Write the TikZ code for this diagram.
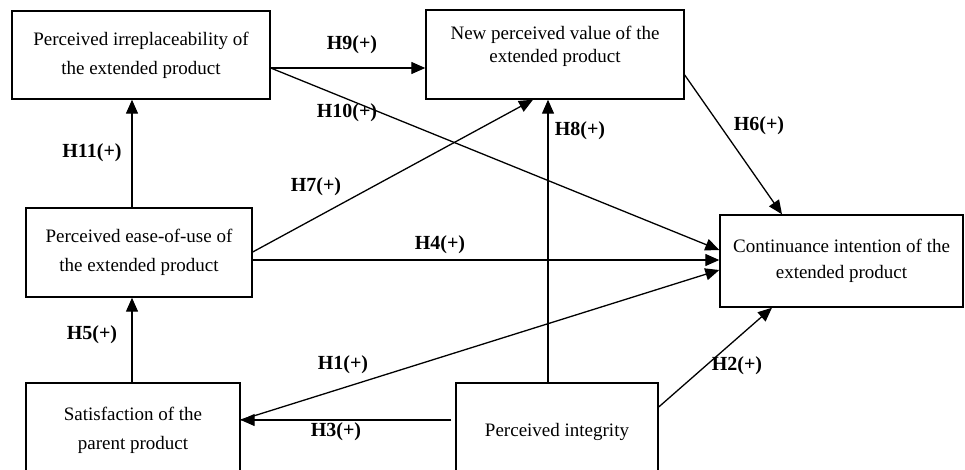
\documentclass[tikz,border=0pt]{standalone}
\usepackage{fontspec}
\setmainfont{Liberation Serif}
\usetikzlibrary{arrows.meta,calc}
\tikzset{
  construct/.style={draw, line width=1.4pt, align=center, inner sep=2pt,
    font=\fontsize{19}{29}\selectfont},
  link/.style={-{Triangle[length=14pt,width=12pt]}, line width=1.3pt},
  hyp/.style={font=\fontsize{20}{22}\selectfont\bfseries, inner sep=0pt},
}

\begin{document}
\begin{tikzpicture}[x=1pt,y=-1pt]
  \useasboundingbox (0,0) rectangle (965,469);

  % constructs
  \node[construct, minimum width=258, minimum height=88] (irr) at (141,55)
    {Perceived irreplaceability of\\the extended product};
  \node[construct, minimum width=258, minimum height=89, text depth=20pt,
    font=\fontsize{19}{23}\selectfont] (value) at (555,54.5)
    {New perceived value of the\\extended product};
  \node[construct, minimum width=226, minimum height=89] (ease) at (139,252.5)
    {Perceived ease-of-use of\\the extended product};
  \node[construct, minimum width=243, minimum height=92,
    font=\fontsize{19}{26}\selectfont] (intent) at (841.5,261)
    {Continuance intention of the\\extended product};
  \node[construct, minimum width=214, minimum height=94] (satis) at (133,430)
    {Satisfaction of the\\parent product};
  \node[construct, minimum width=202, minimum height=98] (integ) at (557,432)
    {Perceived integrity};

  % start points on the boxes
  \coordinate (irrout) at ([yshift=-13pt]irr.east);
  \coordinate (satisout) at ([yshift=10pt]satis.east);

  % hypotheses
  \draw[link] (irrout) -- (irrout -| value.west);
  \draw[link] (irrout) -- ([yshift=11pt]intent.west);
  \draw[link] ([xshift=-7pt]ease.north) -- ([xshift=-7pt]ease.north |- irr.south);
  \draw[link] ([yshift=0.5pt]ease.east) -- ([xshift=-22pt]value.south);
  \draw[link] ([yshift=-7.5pt]ease.east) -- ([yshift=-7.5pt]ease.east -| intent.west);
  \draw[link] ([yshift=-20.5pt]value.east) -- ([xshift=-59.5pt]intent.north);
  \draw[link] ([xshift=-9pt]integ.north) -- ([xshift=-9pt]integ.north |- value.south);
  \draw[link] ([xshift=-1pt]satis.north) -- ([xshift=-1pt]satis.north |- ease.south);
  \draw[link] (satisout) -- ([yshift=-9pt]intent.west);
  \draw[link] ([xshift=-4pt,yshift=12pt]integ.west) -- (satisout);
  \draw[link] ([yshift=25pt]integ.east) -- ([xshift=-69.5pt]intent.south);

  % labels
  \node[hyp] (h9) at (352,45) {H9(+)};
  \node[hyp] (h10) at (347,113) {H10(+)};
  \node[hyp] (h11) at (92,153) {H11(+)};
  \node[hyp] (h7) at (316,187) {H7(+)};
  \node[hyp] (h8) at (580,131) {H8(+)};
  \node[hyp] (h6) at (759,126) {H6(+)};
  \node[hyp] (h4) at (440,245) {H4(+)};
  \node[hyp] (h5) at (92,335) {H5(+)};
  \node[hyp] (h1) at (343,365) {H1(+)};
  \node[hyp] (h2) at (737,366) {H2(+)};
  \node[hyp] (h3) at (336,432) {H3(+)};
\end{tikzpicture}
\end{document}
